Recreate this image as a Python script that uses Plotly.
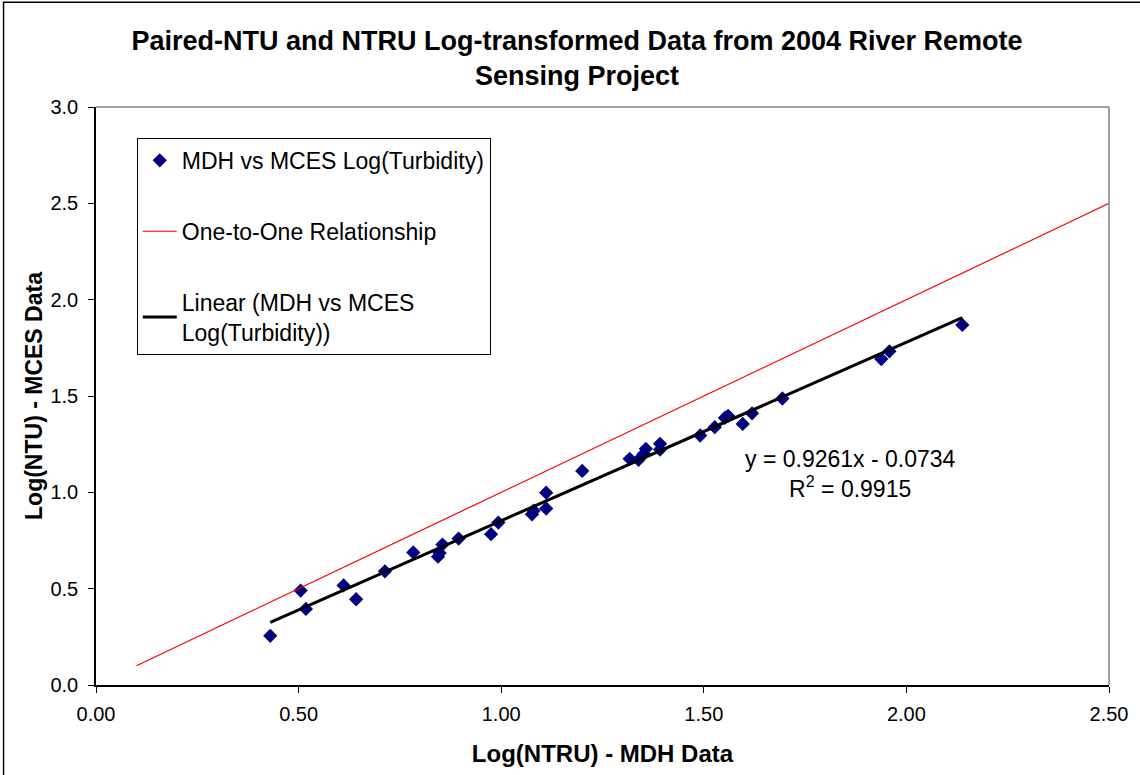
import plotly.graph_objects as go

# Log-transformed turbidity pairs: MDH (NTRU) vs MCES (NTU)
mdh_log = [0.430, 0.505, 0.518, 0.611, 0.642, 0.713, 0.783, 0.844, 0.848, 0.855,
           0.895, 0.975, 0.993, 1.076, 1.080, 1.111, 1.111, 1.200, 1.317, 1.339,
           1.352, 1.357, 1.392, 1.392, 1.491, 1.527, 1.552, 1.560, 1.596, 1.619,
           1.694, 1.938, 1.958, 2.138]
mces_log = [0.255, 0.490, 0.395, 0.517, 0.445, 0.590, 0.688, 0.666, 0.685, 0.729,
            0.760, 0.783, 0.843, 0.886, 0.905, 0.998, 0.916, 1.111, 1.174, 1.169,
            1.200, 1.226, 1.252, 1.222, 1.295, 1.338, 1.386, 1.397, 1.355, 1.410,
            1.487, 1.692, 1.732, 1.869]

# Reference 1:1 line end points
one_to_one = [0.1, 2.5]

# Fitted linear trend
slope = 0.9261
intercept = -0.0734
r_squared = 0.9915

x_ticks = [0.0, 0.5, 1.0, 1.5, 2.0, 2.5]
y_ticks = [0.0, 0.5, 1.0, 1.5, 2.0, 2.5, 3.0]

trend_x = [min(mdh_log), max(mdh_log)]
trend_y = [slope * v + intercept for v in trend_x]

FONT = "Liberation Sans, Arial, sans-serif"

fig = go.Figure()

fig.add_trace(go.Scatter(
    x=mdh_log, y=mces_log, mode="markers",
    name="MDH vs MCES Log(Turbidity)",
    marker=dict(symbol="diamond", size=11, color="#000080"),
    legendgroup="a",
))
fig.add_trace(go.Scatter(
    x=one_to_one, y=one_to_one, mode="lines",
    name="One-to-One Relationship",
    line=dict(color="#FF0000", width=1.2),
    legendgroup="b",
))
fig.add_trace(go.Scatter(
    x=trend_x, y=trend_y, mode="lines",
    name="Linear (MDH vs MCES<br>Log(Turbidity))",
    line=dict(color="#000000", width=3),
    legendgroup="c",
))

fig.add_annotation(
    x=(855 - 96) / 1019, y=(687 - 445) / 580, xref="paper", yref="paper",
    text=f"y = {slope:.4f}x - {abs(intercept):.4f}<br>R<sup>2</sup> = {r_squared:.4f}",
    showarrow=False, align="center", xanchor="center", yanchor="top",
    font=dict(family=FONT, size=23, color="#000000"),
)

# Gray frame on the top and right of the plot area
fig.add_shape(type="line", xref="paper", yref="paper", x0=0, x1=1, y0=1, y1=1,
              line=dict(color="#808080", width=1.5))
fig.add_shape(type="line", xref="paper", yref="paper", x0=1, x1=1, y0=0, y1=1,
              line=dict(color="#808080", width=1.5))
# Outer chart frame
fig.add_shape(type="rect", xref="paper", yref="paper",
              x0=(3 - 96) / 1019, x1=1.2, y0=-0.3, y1=(687 - 2) / 580,
              line=dict(color="#000000", width=1.5))

fig.update_layout(
    width=1140, height=775,
    margin=dict(l=96, r=25, t=107, b=88),
    paper_bgcolor="white", plot_bgcolor="white",
    font=dict(family=FONT, size=20, color="#000000"),
    title=dict(
        text="<b>Paired-NTU and NTRU Log-transformed Data from 2004 River Remote<br>Sensing Project</b>",
        x=577 / 1140, xanchor="center", y=1 - 50 / 775, yanchor="top",
        xref="container", yref="container",
        font=dict(family=FONT, size=27, color="#000000"),
    ),
    showlegend=True,
    legend=dict(
        x=(137 - 96) / 1019, y=(687 - 138) / 580, xanchor="left", yanchor="top",
        bordercolor="#000000", borderwidth=1, bgcolor="white",
        font=dict(family=FONT, size=23, color="#000000"),
        tracegroupgap=38, traceorder="grouped",
        itemwidth=34,
    ),
    xaxis=dict(
        range=[0, 2.5], tickvals=x_ticks, ticktext=[f"{v:.2f}" for v in x_ticks],
        showgrid=False, zeroline=False, showline=True, linecolor="#000000", linewidth=1.5,
        ticks="outside", ticklen=6, tickcolor="#000000", tickfont=dict(size=20),
        ticklabelstandoff=4,
        title=dict(text="<b>Log(NTRU) - MDH Data</b>", font=dict(size=24), standoff=21),
    ),
    yaxis=dict(
        range=[0, 3], tickvals=y_ticks, ticktext=[f"{v:.1f}" for v in y_ticks],
        showgrid=False, zeroline=False, showline=True, linecolor="#000000", linewidth=1.5,
        ticks="outside", ticklen=6, tickcolor="#000000", tickfont=dict(size=20),
        ticklabelstandoff=6,
        title=dict(text="<b>Log(NTU) - MCES Data</b>", font=dict(size=23), standoff=1),
    ),
)

fig.write_html("out.html")
